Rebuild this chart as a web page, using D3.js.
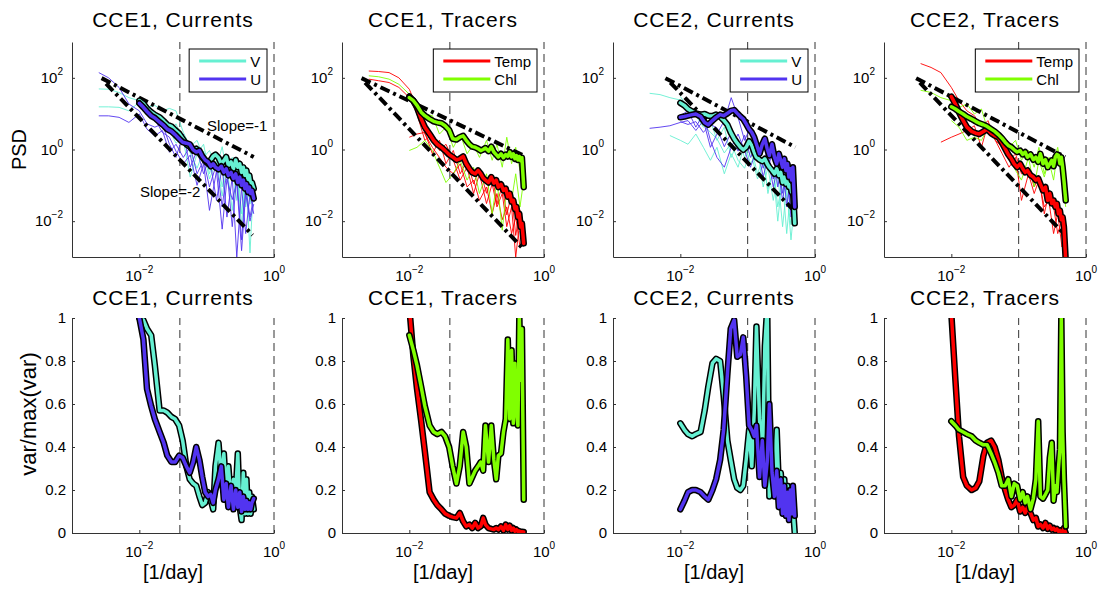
<!DOCTYPE html>
<html><head><meta charset="utf-8">
<script src="https://cdn.jsdelivr.net/npm/d3@7"></script>
<style>
body{margin:0;background:#fff;}
svg{display:block;font-family:"Liberation Sans",Arial,Helvetica,sans-serif;}
</style></head><body>
<svg id="chart" width="1101" height="589"></svg>
<script>
// ---------------- DATA ----------------
const titles = ["CCE1, Currents","CCE1, Tracers","CCE2, Currents","CCE2, Tracers"];
const cutoffs = [0.04, 0.04, 0.1, 0.1];           // dashed vertical lines [1/day]
const xTicks = [0.01, 1];
const yTicksPSD = [0.01, 1, 100];
const yTicksVar = [0, 0.2, 0.4, 0.6, 0.8, 1];

// frequency grid of the averaged (thick) spectra [1/day]
const fThick = [0.010,0.0115,0.013,0.015,0.017,0.020,0.023,0.026,0.030,0.034,0.039,0.044,0.050,0.056,0.063,0.070,0.078,0.086,0.095,0.105,0.115,0.125,0.135,0.15,0.165,0.18,0.195,0.21,0.23,0.25,0.27,0.29,0.31,0.33,0.35,0.37,0.39,0.41,0.43,0.45,0.47,0.50];
// frequency grid of the individual (thin) spectra [1/day]
const fThin = [0.0025,0.0035,0.005,0.007,0.01,0.013,0.017,0.022,0.028,0.035,0.045,0.057,0.072,0.09,0.11,0.14,0.17,0.2,0.24,0.28,0.33,0.38,0.44,0.5];

// mean PSD (thick)
const psdCCE1_V = [23,19,14,11,9.3,7.9,6.2,4.9,4.4,3.5,2.8,2.0,1.4,1.2,0.93,1.05,0.79,0.62,0.48,0.40,0.51,0.65,0.72,0.59,0.40,0.49,0.62,0.36,0.45,0.29,0.51,0.32,0.40,0.23,0.32,0.19,0.26,0.14,0.19,0.11,0.12,0.081];
const psdCCE1_U = [19.5,15,11.5,8.7,7.6,5.8,4.7,3.7,3.2,2.6,2.0,1.6,1.5,1.4,0.98,0.85,0.93,0.65,0.51,0.45,0.34,0.40,0.32,0.28,0.34,0.23,0.29,0.19,0.23,0.155,0.21,0.12,0.17,0.10,0.14,0.081,0.11,0.065,0.089,0.059,0.072,0.043];
const psdCCE1_Temp = [30,23,15,7.1,4.2,2.7,1.8,1.4,1.15,0.93,0.72,0.62,0.51,0.55,0.64,0.40,0.29,0.23,0.21,0.26,0.21,0.16,0.14,0.12,0.17,0.115,0.14,0.089,0.107,0.072,0.081,0.048,0.059,0.035,0.038,0.022,0.025,0.013,0.016,0.0069,0.0087,0.0024];
const psdCCE1_Chl = [28,23,17,11,8.8,7.1,6.1,5.7,5.4,4.6,3.5,2.0,1.9,2.2,2.4,1.8,1.4,1.2,1.15,1.05,0.93,1.0,1.1,0.9,1.2,0.85,0.72,0.62,0.76,0.59,0.72,0.64,0.85,0.62,0.76,0.55,0.68,0.51,0.64,0.49,0.59,0.089];
const psdCCE2_V = [20,17,13.5,11.5,10.2,9.4,9.8,8.8,8.6,9.4,8.2,6.6,4.9,3.0,2.0,1.5,1.16,0.98,1.16,1.7,1.3,0.84,0.61,0.52,0.47,0.55,0.40,0.32,0.26,0.21,0.29,0.19,0.23,0.12,0.17,0.11,0.14,0.09,0.10,0.065,0.081,0.0087];
const psdCCE2_U = [7.9,8.3,8.8,9.4,9.8,8.3,5.7,4.9,6.4,7.9,9.4,8.8,10.2,12,12.6,10.2,8.3,7.1,5.2,3.7,3.0,2.2,1.4,0.76,1.4,2.0,1.05,0.68,1.4,0.61,0.40,0.76,0.50,0.32,0.55,0.26,0.40,0.17,0.29,0.14,0.32,0.025];
const psdCCE2_Temp = [30,18.5,11,6.4,4.2,3.2,2.85,2.7,3.2,3.7,2.85,2.45,2.2,1.6,1.05,0.73,0.55,0.40,0.32,0.40,0.29,0.23,0.26,0.19,0.17,0.14,0.155,0.11,0.072,0.09,0.038,0.059,0.031,0.038,0.025,0.031,0.016,0.020,0.011,0.013,0.0069,0.0008];
const psdCCE2_Chl = [15.6,13.5,11.5,9.8,8.3,7.1,6.1,5.4,4.9,4.4,3.7,3.2,2.6,2.1,1.6,1.3,1.16,0.98,0.85,0.93,0.73,0.85,0.61,0.73,0.52,0.61,0.45,0.76,0.40,0.52,0.32,0.40,0.50,0.34,0.61,0.73,0.68,0.40,0.61,0.32,0.14,0.038];

// individual PSDs (thin)
const thinCCE1_V1 = [49,48,39,28,23,15,17,12,14,12,3.0,1.2,1.8,0.6,0.94,0.32,1.2,0.21,0.6,0.038,0.4,0.025,0.21,0.09];
const thinCCE1_V2 = [15.5,15.5,15,12,21,11,6.4,8.8,2.7,5.2,1.8,0.17,0.76,1.4,0.21,0.84,0.09,0.6,0.17,0.5,0.016,0.32,0.0013,0.14];
const thinCCE1_V3 = [null,null,null,null,25,18,10,6,3.5,1.5,2.2,0.8,0.3,0.9,0.15,0.5,0.05,0.35,0.02,0.3,0.008,0.2,0.03,0.12];
const thinCCE1_U1 = [140,100,54,18.6,12,5.2,4.2,5.2,1.4,0.6,2.7,0.32,0.94,0.21,0.6,0.038,0.32,0.013,0.17,0.001,0.09,0.0045,0.059,0.016];
const thinCCE1_U2 = [8.7,8.7,7.9,5.7,9.8,3.7,2.4,3.4,0.84,1.4,0.6,1.2,0.21,0.5,0.09,0.4,0.025,0.26,0.007,0.17,0.003,0.09,0.013,0.047];
const thinCCE1_U3 = [null,null,null,null,18,10,7,3,2.2,0.9,0.4,0.7,0.1,0.4,0.02,0.25,0.006,0.15,0.04,0.12,0.0015,0.06,0.01,0.03];
const thinCCE1_T1 = [155,150,140,100,48,15,2.7,1.15,0.6,0.32,0.21,0.40,0.09,0.14,0.038,0.09,0.016,0.059,0.011,0.025,0.0045,0.013,0.0019,0.0045];
const thinCCE1_T2 = [92,83,74,54,28,9.8,1.8,2.7,0.94,1.4,0.5,0.14,0.32,0.059,0.21,0.031,0.11,0.025,0.059,0.007,0.025,0.001,0.011,0.003];
const thinCCE1_T3 = [null,null,null,null,2.2,2.7,3.0,0.76,1.8,0.4,0.94,0.21,0.5,0.11,0.3,0.06,0.2,0.03,0.1,0.015,0.06,0.004,0.02,0.002];
const thinCCE1_C1 = [114,107,92,66,35,23,9.8,8.8,2.7,4.2,1.15,2.7,0.76,1.4,0.6,1.8,0.5,1.4,0.32,2.2,0.40,1.15,0.26,0.6];
const thinCCE1_C2 = [null,null,null,null,0.94,1.15,1.8,0.94,0.32,0.12,0.21,0.5,0.14,0.32,0.059,0.21,0.016,0.14,0.0056,0.09,0.038,0.21,0.025,0.14];
const thinCCE2_V1 = [null,37,34,28,24,12,8.8,4.2,6.4,1.8,4.2,0.6,1.8,0.6,1.4,0.21,0.6,0.059,0.32,0.025,0.14,0.0045,0.09,0.016];
const thinCCE2_V2 = [null,null,null,2.45,1.8,1.4,2.7,1.15,0.5,1.15,0.21,0.76,0.32,1.4,0.4,0.94,0.09,0.32,0.038,0.21,0.007,0.09,0.003,0.038];
const thinCCE2_V3 = [null,null,null,null,30,15,9,5,3,2,0.8,1.5,0.5,0.3,0.9,0.15,0.4,0.08,0.25,0.01,0.2,0.05,0.008,0.1];
const thinCCE2_U1 = [null,3.9,4.2,4.6,5.7,6.4,3.4,6.4,1.15,2.7,6.4,28,7.9,1.8,4.2,0.6,1.8,0.32,0.94,0.09,0.5,0.025,0.21,0.09];
const thinCCE2_U2 = [null,null,null,null,8.8,12,4.2,9.8,1.8,0.6,0.32,1.15,2.7,0.94,0.32,1.15,0.17,0.6,0.09,0.32,0.038,0.21,0.013,0.059];
const thinCCE2_U3 = [null,null,null,null,6,5,6,3,5,4,1.2,3,0.9,2.5,0.6,1.5,0.3,0.8,0.15,0.4,0.06,0.3,0.02,0.15];
const thinCCE2_T1 = [null,250,195,140,54,23,12,8.8,4.2,6.4,1.8,1.15,0.5,0.76,0.21,0.32,0.09,0.17,0.016,0.059,0.025,0.0045,0.011,0.003];
const thinCCE2_T2 = [null,null,null,1.6,2.2,2.7,3.4,4.6,1.15,5.2,1.8,0.76,0.32,0.6,0.038,0.21,0.059,0.14,0.025,0.038,0.0045,0.016,0.0019,0.0063];
const thinCCE2_C1 = [null,45,39,28,23,15,18.6,9.8,13.5,3.4,2.7,1.8,1.15,1.8,0.5,0.94,0.32,1.15,0.21,0.6,0.5,1.15,0.21,0.038];
const thinCCE2_C2 = [null,null,null,null,6.4,4.2,1.8,2.2,1.8,4.2,2.2,1.15,0.6,0.26,0.14,0.6,0.09,0.5,0.17,0.5,0.14,0.94,0.14,0.025];

// reference slope lines: [[f0,psd0],[f1,psd1]]
const slopeM1 = [[[0.00275,98],[0.5,0.62]], [[0.00195,98],[0.5,0.68]], [[0.006,98],[0.51,1.16]], [[0.003,98],[0.49,0.62]]];
const slopeM2 = [[[0.0032,69],[0.48,0.0041]], [[0.0022,74],[0.49,0.0017]], [[0.0071,74],[0.46,0.022]], [[0.0034,74],[0.49,0.0041]]];
const slopeLabels = [{text:"Slope=-1", f:0.101, p:3.3}, {text:"Slope=-2", f:0.0102, p:0.047}];

// var/max(var) (bottom row)
const varCCE1_V = [1.00,0.99,0.95,0.92,0.78,0.57,0.57,0.56,0.54,0.53,0.50,0.43,0.31,0.25,0.23,0.22,0.17,0.13,0.14,0.19,0.155,0.11,0.31,0.42,0.25,0.37,0.19,0.31,0.155,0.25,0.19,0.37,0.12,0.06,0.28,0.09,0.25,0.09,0.19,0.09,0.17,0.11];
const varCCE1_U = [1.00,0.90,0.67,0.59,0.53,0.47,0.42,0.36,0.33,0.33,0.36,0.35,0.31,0.28,0.33,0.40,0.34,0.26,0.19,0.17,0.18,0.14,0.20,0.25,0.31,0.155,0.23,0.12,0.22,0.11,0.20,0.12,0.19,0.10,0.17,0.11,0.15,0.11,0.14,0.11,0.14,0.16];
const varCCE1_Temp = [1.05,0.82,0.67,0.52,0.38,0.19,0.155,0.13,0.11,0.09,0.08,0.074,0.07,0.093,0.054,0.031,0.039,0.023,0.047,0.023,0.031,0.07,0.039,0.023,0.019,0.016,0.023,0.016,0.031,0.012,0.039,0.016,0.034,0.012,0.023,0.008,0.016,0.008,0.009,0.006,0.006,0.005];
const varCCE1_Chl = [0.92,0.85,0.78,0.68,0.59,0.50,0.47,0.46,0.47,0.45,0.40,0.31,0.23,0.31,0.47,0.40,0.23,0.26,0.29,0.31,0.33,0.29,0.50,0.33,0.50,0.34,0.25,0.36,0.37,0.47,0.53,0.90,0.53,0.85,0.51,0.79,0.56,0.50,1.01,0.71,0.95,0.155];
const varCCE2_V = [0.51,0.48,0.46,0.45,0.46,0.47,0.57,0.68,0.79,0.81,0.80,0.64,0.43,0.34,0.25,0.21,0.20,0.22,0.34,0.48,0.31,0.56,0.96,0.53,0.33,0.87,1.05,0.17,0.37,0.25,0.48,0.22,0.28,0.17,0.25,0.12,0.22,0.11,0.17,0.08,0.12,0.0];
const varCCE2_U = [0.11,0.15,0.19,0.20,0.20,0.19,0.17,0.155,0.20,0.25,0.34,0.48,0.74,0.95,0.99,0.82,0.83,0.91,0.73,0.50,0.48,0.45,0.50,0.26,0.43,0.22,0.33,0.60,0.28,0.17,0.29,0.12,0.25,0.09,0.22,0.08,0.19,0.06,0.20,0.09,0.22,0.08];
const varCCE2_Temp = [1.02,0.71,0.45,0.26,0.22,0.20,0.21,0.24,0.36,0.42,0.43,0.40,0.34,0.26,0.20,0.155,0.12,0.13,0.155,0.10,0.12,0.093,0.12,0.093,0.06,0.07,0.03,0.04,0.023,0.047,0.019,0.034,0.016,0.023,0.012,0.019,0.008,0.012,0.003,0.008,0.023,0.0];
const varCCE2_Chl = [0.52,0.50,0.48,0.47,0.46,0.45,0.43,0.42,0.41,0.41,0.37,0.33,0.28,0.22,0.22,0.25,0.17,0.23,0.22,0.155,0.19,0.14,0.17,0.11,0.16,0.25,0.52,0.17,0.16,0.18,0.20,0.35,0.42,0.15,0.22,0.19,0.30,0.39,1.01,0.47,0.25,0.03];

// ---------------- STYLE / LAYOUT ----------------
const colors = {V:"#66F0D2", U:"#5234F0", Temp:"#FF0000", Chl:"#80FF00"};
const panelLeft = [72, 342, 613, 884];
const PW = 202;
const TOP = {y0:42, y1:257}, BOT = {y0:318, y1:533};
const axisColor = "#333";

const panels = [
  {keys:["V","U"], thick:{V:psdCCE1_V, U:psdCCE1_U}, thin:{V:[thinCCE1_V1,thinCCE1_V2,thinCCE1_V3], U:[thinCCE1_U1,thinCCE1_U2,thinCCE1_U3]}, frac:{V:varCCE1_V, U:varCCE1_U}},
  {keys:["Temp","Chl"], thick:{Temp:psdCCE1_Temp, Chl:psdCCE1_Chl}, thin:{Temp:[thinCCE1_T1,thinCCE1_T2,thinCCE1_T3], Chl:[thinCCE1_C1,thinCCE1_C2]}, frac:{Temp:varCCE1_Temp, Chl:varCCE1_Chl}},
  {keys:["V","U"], thick:{V:psdCCE2_V, U:psdCCE2_U}, thin:{V:[thinCCE2_V1,thinCCE2_V2,thinCCE2_V3], U:[thinCCE2_U1,thinCCE2_U2,thinCCE2_U3]}, frac:{V:varCCE2_V, U:varCCE2_U}},
  {keys:["Temp","Chl"], thick:{Temp:psdCCE2_Temp, Chl:psdCCE2_Chl}, thin:{Temp:[thinCCE2_T1,thinCCE2_T2], Chl:[thinCCE2_C1,thinCCE2_C2]}, frac:{Temp:varCCE2_Temp, Chl:varCCE2_Chl}}
];

const svg = d3.select("#chart");
const defs = svg.append("defs");

function supLabel(textSel, v){
  const e = Math.round(Math.log10(v));
  textSel.append("tspan").text("10");
  textSel.append("tspan").attr("dy", -8).attr("font-size", 10).text(e < 0 ? "\u2212" + (-e) : String(e));
}

function drawAxes(g, x, y, box, yTicks, logY){
  const ax = g.append("g").attr("transform", `translate(0,${box.y1})`)
    .call(d3.axisBottom(x).tickValues(xTicks).tickSizeInner(-3).tickSizeOuter(0).tickFormat(""));
  const ay = g.append("g").attr("transform", `translate(${x.range()[0]},0)`)
    .call(d3.axisLeft(y).tickValues(yTicks).tickSizeInner(-3).tickSizeOuter(0).tickFormat(""));
  [ax, ay].forEach(a => { a.selectAll("path,line").attr("stroke", axisColor); a.select(".domain").attr("stroke-width", 1); });
  xTicks.forEach(v => {
    const t = g.append("text").attr("x", x(v)).attr("y", box.y1 + 23.5)
      .attr("text-anchor", "middle").attr("font-size", 15).attr("fill", "#000");
    supLabel(t, v);
  });
  yTicks.forEach(v => {
    const t = g.append("text").attr("y", y(v) + 5.3).attr("font-size", 15).attr("fill", "#000")
      .attr("text-anchor", "end");
    if (logY) { t.attr("x", x.range()[0] - 9); supLabel(t, v); }
    else { t.attr("x", x.range()[0] - 6).text(v === 0 || v === 1 ? String(v) : v.toFixed(1)); }
  });
}

function drawDashed(g, x, box, cut){
  [cut, 1].forEach(f => {
    g.append("line").attr("x1", x(f)).attr("x2", x(f)).attr("y1", box.y1).attr("y2", box.y0)
      .attr("stroke", axisColor).attr("stroke-width", 1).attr("stroke-dasharray", "8,5");
  });
}

function thickLine(g, line, data, color){
  g.append("path").datum(data).attr("d", line).attr("fill", "none").attr("stroke", "#000")
    .attr("stroke-width", 6.5).attr("stroke-linejoin", "round").attr("stroke-linecap", "round");
  g.append("path").datum(data).attr("d", line).attr("fill", "none").attr("stroke", color)
    .attr("stroke-width", 3.5).attr("stroke-linejoin", "round").attr("stroke-linecap", "round");
}

panels.forEach((p, i) => {
  const left = panelLeft[i];
  const x = d3.scaleLog().domain([1e-3, 1]).range([left, left + PW]);

  // ---------- TOP ROW: PSD ----------
  {
    const y = d3.scaleLog().domain([1e-3, 1e3]).range([TOP.y1, TOP.y0]);
    const g = svg.append("g");
    const cid = "clipT" + i;
    defs.append("clipPath").attr("id", cid).append("rect")
      .attr("x", left).attr("y", TOP.y0).attr("width", PW).attr("height", TOP.y1 - TOP.y0);
    drawDashed(g, x, TOP, cutoffs[i]);
    const pg = g.append("g").attr("clip-path", `url(#${cid})`);
    const line = d3.line().defined(d => d[1] != null && d[1] > 0).x(d => x(d[0])).y(d => y(d[1]));
    p.keys.forEach(k => {
      p.thin[k].forEach(arr => {
        pg.append("path").datum(fThin.map((f, j) => [f, arr[j]])).attr("d", line)
          .attr("fill", "none").attr("stroke", colors[k]).attr("stroke-width", 1).attr("opacity", 0.9);
      });
    });
    [slopeM1[i], slopeM2[i]].forEach(s => {
      pg.append("path").datum(s).attr("d", line).attr("fill", "none").attr("stroke", "#000")
        .attr("stroke-width", 4).attr("stroke-dasharray", "10,4,3,4");
    });
    p.keys.forEach(k => thickLine(pg, line, fThick.map((f, j) => [f, p.thick[k][j]]), colors[k]));
    drawAxes(g, x, y, TOP, yTicksPSD, true);
    if (i === 0) {
      slopeLabels.forEach(s => g.append("text").attr("x", x(s.f)).attr("y", y(s.p))
        .attr("font-size", 15).attr("fill", "#000").text(s.text));
    }
    // legend
    const lg = g.append("g");
    const rightEdge = left + PW - 7;
    const tmp = lg.append("g");
    const widths = p.keys.map(k => { const t = tmp.append("text").attr("font-size", 15).text(k); return t.node().getComputedTextLength(); });
    tmp.remove();
    const boxW = 10 + 47 + 4 + d3.max(widths) + 6;
    const bx = rightEdge - boxW, by = 49;
    lg.append("rect").attr("x", bx).attr("y", by).attr("width", boxW).attr("height", 43)
      .attr("fill", "#fff").attr("stroke", "#000").attr("stroke-width", 1);
    p.keys.forEach((k, j) => {
      const ly = by + 12 + j * 18;
      lg.append("line").attr("x1", bx + 10).attr("x2", bx + 57).attr("y1", ly).attr("y2", ly)
        .attr("stroke", colors[k]).attr("stroke-width", 3);
      lg.append("text").attr("x", bx + 61).attr("y", ly + 5.5).attr("font-size", 15).attr("fill", "#000").text(k);
    });
    g.append("text").attr("x", left + PW / 2).attr("y", 27).attr("text-anchor", "middle")
      .attr("font-size", 21).attr("letter-spacing", "0.95px").attr("fill", "#000").text(titles[i]);
  }

  // ---------- BOTTOM ROW: var/max(var) ----------
  {
    const y = d3.scaleLinear().domain([0, 1]).range([BOT.y1, BOT.y0]);
    const g = svg.append("g");
    const cid = "clipB" + i;
    defs.append("clipPath").attr("id", cid).append("rect")
      .attr("x", left).attr("y", BOT.y0).attr("width", PW).attr("height", BOT.y1 - BOT.y0);
    drawDashed(g, x, BOT, cutoffs[i]);
    const pg = g.append("g").attr("clip-path", `url(#${cid})`);
    const line = d3.line().defined(d => d[1] != null).x(d => x(d[0])).y(d => y(d[1]));
    p.keys.forEach(k => thickLine(pg, line, fThick.map((f, j) => [f, p.frac[k][j]]), colors[k]));
    drawAxes(g, x, y, BOT, yTicksVar, false);
    g.append("text").attr("x", left + PW / 2).attr("y", 305).attr("text-anchor", "middle")
      .attr("font-size", 21).attr("letter-spacing", "0.95px").attr("fill", "#000").text(titles[i]);
    g.append("text").attr("x", left + PW / 2).attr("y", 579).attr("text-anchor", "middle")
      .attr("font-size", 20).attr("fill", "#000").text("[1/day]");
  }
});

// y-axis labels
svg.append("text").attr("transform", "translate(26,149.5) rotate(-90)").attr("text-anchor", "middle")
  .attr("font-size", 20).attr("fill", "#000").text("PSD");
svg.append("text").attr("transform", "translate(36,414) rotate(-90)").attr("text-anchor", "middle")
  .attr("font-size", 22).attr("fill", "#000").text("var/max(var)");
</script>
</body></html>
